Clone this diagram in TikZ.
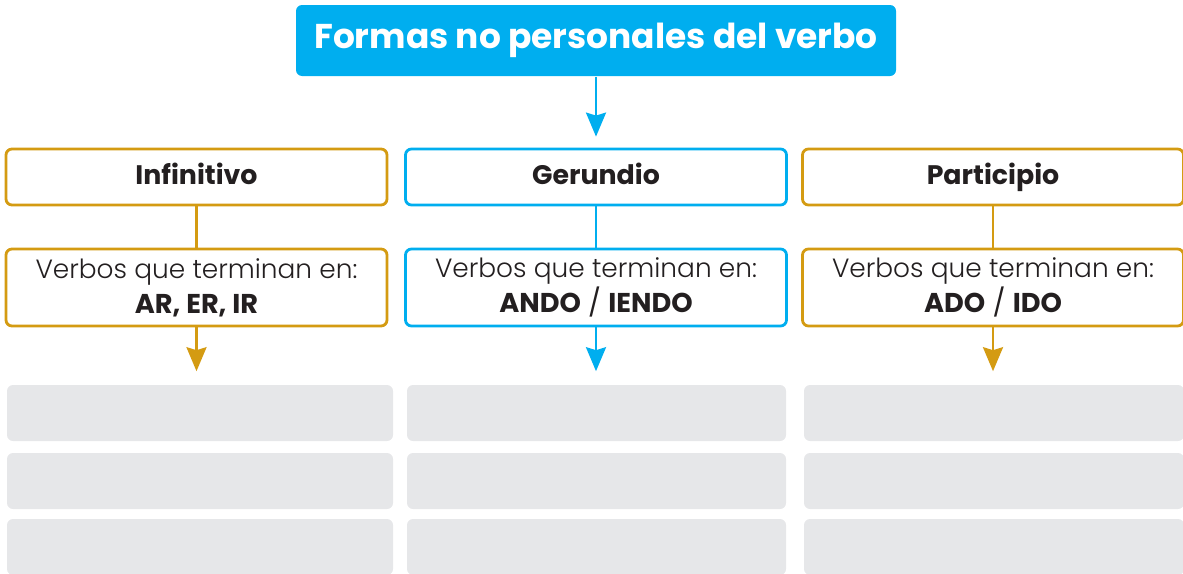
\documentclass[tikz,border=0pt]{standalone}
\usepackage{fontspec}
\setmainfont{Poppins}
\newfontfamily\thinfont{Poppins Light}
\usetikzlibrary{arrows.meta,positioning}
\definecolor{skyblue}{RGB}{0,174,239}
\definecolor{ochre}{RGB}{212,155,18}
\definecolor{slotgray}{RGB}{230,231,233}
\definecolor{inkgray}{RGB}{35,31,32}
\begin{document}
\begin{tikzpicture}[x=0.5pt, y=-0.5pt, thick,
    title node/.style={fill=skyblue, rounded corners=3pt, minimum width=300pt, minimum height=35.5pt,
      text=white, font=\bfseries\fontsize{17.2}{19}\selectfont},
    main node/.style={draw, line width=1.4pt, rounded corners=3pt, fill=white, minimum width=190.5pt,
      minimum height=28pt, text height=9.5pt, text depth=2.5pt, text=inkgray,
      font=\bfseries\fontsize{13.4}{15}\selectfont},
    rule node/.style={main node, minimum height=38.5pt, text height=, text depth=, align=center,
      font=\fontsize{13.2}{17.5}\selectfont},
    slot node/.style={fill=slotgray, rounded corners=3pt, minimum height=28pt, inner sep=0pt},
    link/.style={line width=1.25pt},
    tip/.style={-{Stealth[width=10pt, length=12pt, inset=1.5pt]}}]
  \useasboundingbox (0,0) rectangle (1183,573);
  % blank slots to fill in
  \foreach \c/\x/\w in {inf/200/386, ger/596.5/379, par/994/380}
    \foreach \r/\y in {1/413, 2/481, 3/547}
      \node[slot node, minimum width=\w*0.5pt] (slot-\c-\r) at (\x,\y) {};
  \node[title node] (title) at (596,40.5) {Formas no personales del verbo};
  \node[main node, draw=skyblue] (ger) [below of=title, node distance=68.25pt] {Gerundio};
  \node[main node, draw=ochre] (inf) [left of=ger, node distance=199.75pt] {Infinitivo};
  \node[main node, draw=ochre] (par) [right of=ger, node distance=198.5pt] {Participio};
  \node[rule node, draw=ochre] (inf-rule) [below of=inf, node distance=55.25pt]
    {{\thinfont Verbos que terminan en:}\\{\fontsize{13.6}{17.5}\selectfont\textbf{AR, ER, IR}}};
  \node[rule node, draw=skyblue] (ger-rule) [below of=ger, node distance=55.25pt]
    {{\thinfont Verbos que terminan en:}\\{\fontsize{13.6}{17.5}\selectfont\textbf{ANDO} / \textbf{IENDO}}};
  \node[rule node, draw=ochre] (par-rule) [below of=par, node distance=55.25pt]
    {{\thinfont Verbos que terminan en:}\\{\fontsize{13.6}{17.5}\selectfont\textbf{ADO} / \textbf{IDO}}};
  \path[link]
    (title) edge [color=skyblue, tip, shorten >=5.5pt] (ger)
    (inf) edge [color=ochre] (inf-rule)
    (ger) edge [color=skyblue] (ger-rule)
    (par) edge [color=ochre] (par-rule);
  \draw[link, tip, color=ochre, shorten >=6.5pt] (inf-rule.south) -- (inf-rule.south |- slot-inf-1.north);
  \draw[link, tip, color=skyblue, shorten >=6.5pt] (ger-rule.south) -- (ger-rule.south |- slot-ger-1.north);
  \draw[link, tip, color=ochre, shorten >=6.5pt] (par-rule.south) -- (par-rule.south |- slot-par-1.north);
\end{tikzpicture}
\end{document}
